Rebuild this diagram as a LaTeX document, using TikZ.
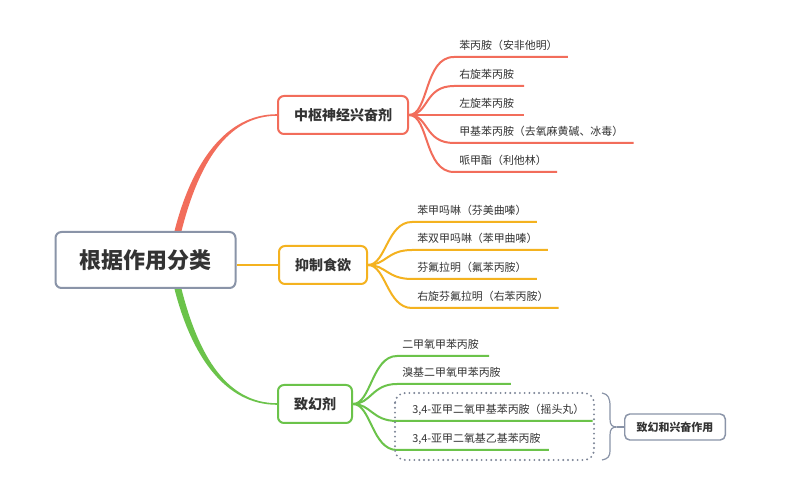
\documentclass[tikz,border=0pt]{standalone}
\usepackage{fontspec}
\setmainfont{Noto Sans CJK SC}
\usetikzlibrary{calc,backgrounds}
\definecolor{cred}{HTML}{F26D5B}
\definecolor{cyel}{HTML}{F4B21F}
\definecolor{cgrn}{HTML}{6BC34A}
\definecolor{cgray}{HTML}{8A94A8}
\definecolor{cdot}{HTML}{7B8496}
\definecolor{ctext}{HTML}{333333}
\begin{document}
\begin{tikzpicture}[x=0.75pt,y=-0.75pt,
 rootbox/.style={draw=cgray, line width=1.5pt, rounded corners=4.5pt, fill=white, inner xsep=18pt, minimum height=42pt, font=\fontsize{16.5}{20}\selectfont\bfseries, text=ctext},
 branch/.style={line width=1.5pt, rounded corners=4.5pt, fill=white, inner xsep=12pt, minimum height=28.5pt, font=\fontsize{10.5}{13}\selectfont\bfseries, text=ctext, anchor=west},
 leaf/.style={anchor=south west, inner xsep=0pt, inner ysep=5.25pt, text depth=0pt, font=\fontsize{8.2}{10}\selectfont, text=ctext},
 conn/.style={line width=1.5pt},
 sidebox/.style={draw=cgray, line width=1.1pt, rounded corners=3.75pt, fill=white, inner xsep=9pt, minimum height=19.5pt, font=\fontsize{8.2}{10}\selectfont\bfseries, text=ctext}]
\useasboundingbox (0,0) rectangle (800,484);

% main nodes
\node[rootbox] (root) at (145.5,260) {根据作用分类};
\node[branch, draw=cred] (b1) at (277,115) {中枢神经兴奋剂};
\node[branch, draw=cyel] (b2) at (278,265) {抑制食欲};
\node[branch, draw=cgrn] (b3) at (277,404) {致幻剂};

% leaves red
\node[leaf] (r1) at (459,57) {苯丙胺（安非他明）};
\node[leaf] (r2) at (459,86) {右旋苯丙胺};
\node[leaf] (r3) at (459,115) {左旋苯丙胺};
\node[leaf] (r4) at (459,143) {甲基苯丙胺（去氧麻黄碱、冰毒）};
\node[leaf] (r5) at (459,172) {哌甲酯（利他林）};
% leaves yellow
\node[leaf] (y1) at (417,222) {苯甲吗啉（芬美曲嗪）};
\node[leaf] (y2) at (417,250) {苯双甲吗啉（苯甲曲嗪）};
\node[leaf] (y3) at (417,279) {芬氟拉明（氟苯丙胺）};
\node[leaf] (y4) at (417,308) {右旋芬氟拉明（右苯丙胺）};
% leaves green
\node[leaf] (g1) at (402,356) {二甲氧甲苯丙胺};
\node[leaf] (g2) at (402,384) {溴基二甲氧甲苯丙胺};
\node[leaf] (g3) at (412,421) {3,4-亚甲二氧甲基苯丙胺（摇头丸）};
\node[leaf] (g4) at (412,450) {3,4-亚甲二氧基乙基苯丙胺};

\node[sidebox] (side) at (675,427) {致幻和兴奋作用};
\coordinate (btip) at (617,427);

\begin{scope}[on background layer]
\fill[white] (0,0) rectangle (800,484);
% root connectors (tapered)
\fill[cred] ($(root.north)+(29,0)$) .. controls +(17,-67) and +(-52,0) .. ($(b1.west)+(0,-0.8)$)
  -- ($(b1.west)+(0,0.8)$) .. controls +(-50,0) and +(17,-67) .. ($(root.north)+(36,0)$) -- cycle;
\fill[cgrn] ($(root.south)+(29,0)$) .. controls +(17,67) and +(-52,0) .. ($(b3.west)+(0,0.8)$)
  -- ($(b3.west)+(0,-0.8)$) .. controls +(-50,0) and +(17,67) .. ($(root.south)+(36,0)$) -- cycle;
\draw[cyel, line width=2.2pt] (root.east |- b2.west) -- (b2.west);

% branch connectors
\foreach \l in {r1,r2,r3,r4,r5}
  \draw[conn,cred] (b1.east) .. controls +(20,0) and +(-30,0) .. ($(\l.south west)+(-5,0)$) -- ($(\l.south east)+(10,0)$);
\foreach \l in {y1,y2,y3,y4}
  \draw[conn,cyel] (b2.east) .. controls +(18,0) and +(-25,0) .. ($(\l.south west)+(-5,0)$) -- ($(\l.south east)+(10,0)$);
\foreach \l in {g1,g2}
  \draw[conn,cgrn] (b3.east) .. controls +(18,0) and +(-25,0) .. ($(\l.south west)+(-5,0)$) -- ($(\l.south east)+(10,0)$);
\foreach \l in {g3,g4}
  \draw[conn,cgrn] (b3.east) .. controls +(18,0) and +(-25,0) .. ($(\l.south west)+(-15,0)$) -- ($(\l.south east)+(8,0)$);
\end{scope}

% dotted group box
\draw[cdot, line width=1.6pt, dash pattern=on 0pt off 3.6pt, line cap=round, rounded corners=7.5pt] (395,393) rectangle (594,460);

% brace
\draw[cgray, line width=0.9pt] (602,393) .. controls (608,394) and (610,398) .. (610,406) -- (610,419)
  .. controls (610,425) and (612,427) .. (btip) .. controls (612,427) and (610,429) .. (610,435)
  -- (610,451) .. controls (610,456) and (608,459) .. (602,460);
\draw[cgray, line width=0.9pt] (btip) -- (side.west);
\end{tikzpicture}
\end{document}
